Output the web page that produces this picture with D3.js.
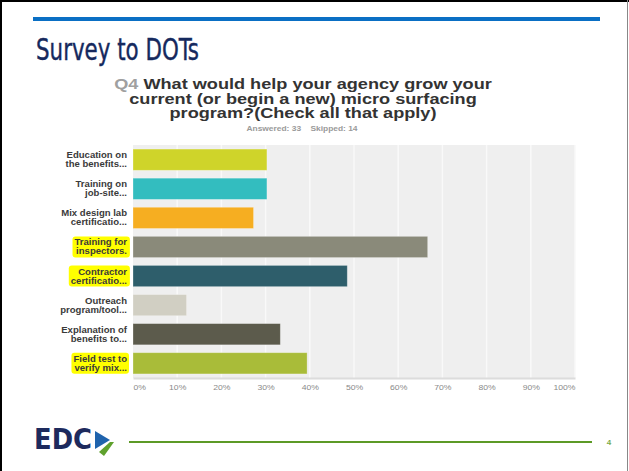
<!DOCTYPE html>
<html>
<head>
<meta charset="utf-8">
<script src="https://cdn.jsdelivr.net/npm/d3@7"></script>
<style>
  body { margin: 0; background: #fff; }
  svg { display: block; }
</style>
</head>
<body>
<div id="chart"></div>
<script>
// survey answers (percent of 33 respondents)
var labels = [
  ["Education on", "the benefits..."],
  ["Training on", "job-site..."],
  ["Mix design lab", "certificatio..."],
  ["Training for", "inspectors."],
  ["Contractor", "certificatio..."],
  ["Outreach", "program/tool..."],
  ["Explanation of", "benefits to..."],
  ["Field test to", "verify mix..."]
];
var values = [30.30, 30.30, 27.27, 66.67, 48.48, 12.12, 33.33, 39.39];
var highlighted = [false, false, false, true, true, false, false, true];
var barColors = ["#cfd42a", "#33bdbf", "#f6ae21", "#8a8a7a", "#2e5e6b", "#d1cfc3", "#5c5b4c", "#a9bc39"];
var ticks = [0, 10, 20, 30, 40, 50, 60, 70, 80, 90, 100];
var questionLines = [
  ["Q4 ", "What would help your agency grow your"],
  ["", "current (or begin a new) micro surfacing"],
  ["", "program?(Check all that apply)"]
];
var answeredText = "Answered: 33    Skipped: 14";

var W = 629, H = 471;
var svg = d3.select("#chart").append("svg")
    .attr("width", W)
    .attr("height", H)
    .style("font-family", "'Liberation Sans', Arial, sans-serif");

// the slide picture is stretched sideways, so widen text to match
function stretch(sel, f) {
  sel.each(function() {
    var len = this.getComputedTextLength();
    d3.select(this).attr("textLength", len * f).attr("lengthAdjust", "spacingAndGlyphs");
  });
}

svg.append("rect").attr("width", W).attr("height", H).attr("fill", "#fff");

// slide frame
svg.append("rect").attr("x", 0).attr("y", 0).attr("width", W).attr("height", 2).attr("fill", "#000");
svg.append("rect").attr("x", 0).attr("y", 0).attr("width", 2).attr("height", H).attr("fill", "#000");
svg.append("rect").attr("x", 627).attr("y", 0).attr("width", 1).attr("height", H).attr("fill", "#888");

// top blue rule
svg.append("rect").attr("x", 33).attr("y", 17).attr("width", 567).attr("height", 4).attr("fill", "#0a6fc4");

// slide title
svg.append("text")
    .attr("x", 36).attr("y", 60)
    .attr("font-size", 30)
    .attr("font-family", "'Liberation Sans Narrow', 'DejaVu Sans Condensed', sans-serif")
    .attr("fill", "#15295e")
    .attr("stroke", "#15295e")
    .attr("stroke-width", 0.4)
    .attr("textLength", 163)
    .attr("lengthAdjust", "spacingAndGlyphs")
    .text("Survey to DOTs");

// question heading
var qt = svg.append("g").attr("text-anchor", "middle")
    .attr("font-weight", "bold").attr("font-size", 14.5);
questionLines.forEach(function(l, i) {
  var t = qt.append("text").attr("x", 303).attr("y", 89 + i * 14.5);
  if (l[0]) t.append("tspan").attr("fill", "#a0a0a0").text(l[0]);
  t.append("tspan").attr("fill", "#333").text(l[1]);
});
stretch(qt.selectAll("text"), 1.25);

var ans = svg.append("text")
    .attr("x", 302).attr("y", 131)
    .attr("text-anchor", "middle")
    .attr("font-size", 7)
    .attr("font-weight", "bold")
    .attr("fill", "#9a9a9a")
    .attr("xml:space", "preserve")
    .text(answeredText);
stretch(ans, 1.2);

// chart
var x = d3.scaleLinear().domain([0, 100]).range([133, 575]);
var y = d3.scaleBand().domain(d3.range(values.length)).range([145, 378]).paddingInner(0.27).paddingOuter(0.14);

svg.append("rect")
    .attr("x", x(0)).attr("y", 145)
    .attr("width", x(100) - x(0)).attr("height", 378 - 145)
    .attr("fill", "#efefef");

svg.append("g").selectAll("line")
    .data(ticks.slice(1))
    .join("line")
    .attr("x1", d => x(d)).attr("x2", d => x(d))
    .attr("y1", 145).attr("y2", 378)
    .attr("stroke", "#f9f9f9")
    .attr("stroke-width", 1.5);

svg.append("g").selectAll("rect")
    .data(values)
    .join("rect")
    .attr("x", x(0))
    .attr("y", (d, i) => y(i))
    .attr("width", d => x(d) - x(0))
    .attr("height", y.bandwidth())
    .attr("fill", (d, i) => barColors[i])
    .attr("stroke", "rgba(255,255,255,0.35)")
    .attr("stroke-width", 0.8);

// bottom axis
var axis = svg.append("g")
    .attr("transform", "translate(0,378)")
    .call(d3.axisBottom(x).tickValues(ticks).tickSize(0).tickPadding(7).tickFormat(d => d + "%"));
axis.select(".domain").attr("stroke", "#dcdcdc").attr("stroke-width", 2);
axis.selectAll("text")
    .attr("fill", "#8a8a8a")
    .attr("font-size", 7.5)
    .attr("font-family", "'Liberation Sans', Arial, sans-serif")
    .attr("text-anchor", (d, i) => i === 0 ? "start" : (i === ticks.length - 1 ? "end" : "middle"));
stretch(axis.selectAll("text"), 1.15);

// category labels
var lab = svg.append("g")
    .attr("font-size", 8.3)
    .attr("font-weight", "bold")
    .attr("text-anchor", "end");
labels.forEach(function(l, i) {
  var cy = y(i) + y.bandwidth() / 2;
  var g = lab.append("g");
  var t = g.append("text").attr("fill", "#3a3a3a");
  t.append("tspan").attr("x", 127).attr("y", cy - 1.5).text(l[0]);
  t.append("tspan").attr("x", 127).attr("y", cy + 7.5).text(l[1]);
  stretch(t.selectAll("tspan"), 1.15);
  if (highlighted[i]) {
    var b = t.node().getBBox();
    g.insert("rect", "text")
      .attr("x", b.x - 2).attr("y", b.y - 1)
      .attr("width", b.width + 4).attr("height", b.height + 2)
      .attr("rx", 3)
      .attr("fill", "#ffff00");
  }
});

// footer
var logo = svg.append("g");
logo.append("text")
    .attr("x", 34).attr("y", 449)
    .attr("font-size", 28)
    .attr("font-weight", "bold")
    .attr("font-family", "'Liberation Sans Narrow', 'DejaVu Sans Condensed', sans-serif")
    .attr("fill", "#1d2a5d")
    .attr("textLength", 58)
    .attr("lengthAdjust", "spacingAndGlyphs")
    .text("EDC");
logo.append("path").attr("d", "M95,431 L110,440 L95,449 Z").attr("fill", "#1f63ad");
logo.append("path").attr("d", "M99,452 L110,442 L114,442 L104,456 Z").attr("fill", "#5fa12d");

svg.append("rect").attr("x", 129).attr("y", 441).attr("width", 463).attr("height", 2).attr("fill", "#5c9a26");
svg.append("text")
    .attr("x", 609).attr("y", 445)
    .attr("text-anchor", "middle")
    .attr("font-size", 8)
    .attr("font-weight", "bold")
    .attr("fill", "#7aab4c")
    .text("4");
</script>
</body>
</html>
